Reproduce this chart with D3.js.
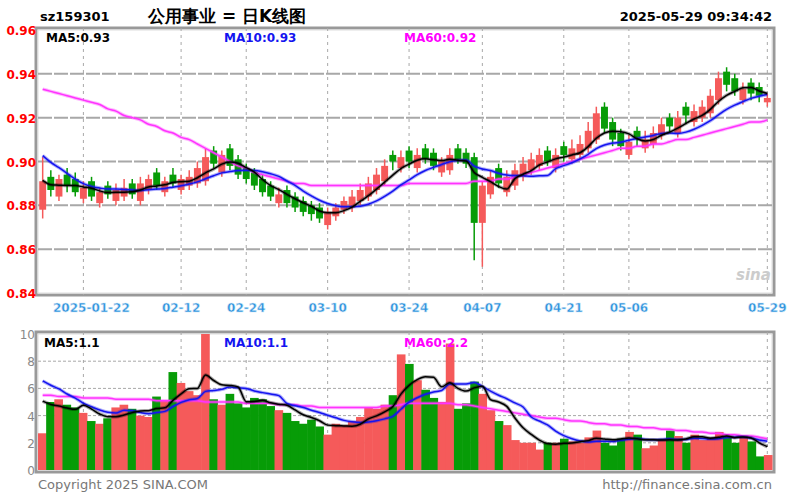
<!DOCTYPE html>
<html>
<head>
<meta charset="utf-8">
<script src="https://cdn.jsdelivr.net/npm/d3@7"></script>
<style>
  body { margin: 0; background: #fff; }
  text { font-family: "DejaVu Sans", sans-serif; }
</style>
</head>
<body>
<svg id="chart" width="800" height="500"></svg>
<script>
// closes of the 9 sessions before the window (only feed the moving averages)
const priorCloses = [0.918, 0.916, 0.915, 0.912, 0.909, 0.897, 0.893, 0.890, 0.886];
const priorVolumes = [8.2, 7.9, 8.5, 7.6, 8.0, 6.2, 5.8, 5.5, 5.1];
// daily closes, 90 trading days ending 2025-05-29
const closes = [
  0.891, 0.887, 0.892, 0.889, 0.886, 0.888, 0.884, 0.886, 0.885, 0.887,
  0.888, 0.885, 0.890, 0.892, 0.889, 0.891, 0.890, 0.892, 0.893, 0.897,
  0.902, 0.899, 0.903, 0.898, 0.894, 0.892, 0.889, 0.886, 0.884, 0.885,
  0.881, 0.879, 0.877, 0.876, 0.874, 0.877, 0.879, 0.882, 0.884, 0.887,
  0.890, 0.894, 0.898, 0.900, 0.902, 0.900, 0.903, 0.901, 0.898, 0.900,
  0.903, 0.901, 0.899, 0.872, 0.889, 0.893, 0.890, 0.893, 0.896, 0.899,
  0.901, 0.903, 0.900, 0.903, 0.903, 0.906, 0.908, 0.914, 0.922, 0.915,
  0.910, 0.907, 0.909, 0.911, 0.910, 0.913, 0.917, 0.916, 0.920, 0.921,
  0.923, 0.925, 0.930, 0.938, 0.935, 0.932, 0.933, 0.931, 0.930, 0.929
];
const opens = [
  0.878, 0.893, 0.884, 0.894, 0.892, 0.883, 0.891, 0.881, 0.889, 0.882,
  0.884, 0.890, 0.882, 0.887, 0.895, 0.886, 0.894, 0.887, 0.889, 0.890,
  0.891, 0.905, 0.895, 0.906, 0.901, 0.897, 0.895, 0.892, 0.889, 0.881,
  0.887, 0.884, 0.882, 0.880, 0.879, 0.871, 0.875, 0.878, 0.879, 0.882,
  0.884, 0.887, 0.891, 0.903, 0.897, 0.905, 0.897, 0.906, 0.904, 0.895,
  0.896, 0.906, 0.904, 0.902, 0.872, 0.885, 0.897, 0.886, 0.889, 0.893,
  0.896, 0.898, 0.905, 0.897, 0.907, 0.901, 0.903, 0.906, 0.910, 0.925,
  0.918, 0.913, 0.903, 0.914, 0.906, 0.908, 0.912, 0.920, 0.913, 0.925,
  0.918, 0.920, 0.922, 0.928, 0.941, 0.938, 0.928, 0.936, 0.934, 0.927
];
const highs = [
  0.902, 0.896, 0.894, 0.897, 0.895, 0.891, 0.893, 0.888, 0.891, 0.890,
  0.892, 0.892, 0.893, 0.894, 0.897, 0.893, 0.897, 0.894, 0.896, 0.900,
  0.906, 0.907, 0.905, 0.908, 0.903, 0.899, 0.897, 0.894, 0.891, 0.888,
  0.889, 0.886, 0.884, 0.882, 0.881, 0.879, 0.881, 0.884, 0.887, 0.890,
  0.893, 0.897, 0.901, 0.905, 0.905, 0.907, 0.906, 0.908, 0.906, 0.902,
  0.906, 0.908, 0.906, 0.904, 0.891, 0.896, 0.899, 0.896, 0.899, 0.902,
  0.904, 0.906, 0.907, 0.906, 0.909, 0.910, 0.912, 0.918, 0.925, 0.927,
  0.920, 0.915, 0.912, 0.916, 0.914, 0.916, 0.920, 0.922, 0.923, 0.927,
  0.926, 0.928, 0.933, 0.941, 0.943, 0.940, 0.936, 0.938, 0.936, 0.931
];
const lows = [
  0.874, 0.884, 0.882, 0.886, 0.884, 0.881, 0.882, 0.879, 0.883, 0.880,
  0.882, 0.883, 0.880, 0.885, 0.887, 0.884, 0.888, 0.885, 0.887, 0.888,
  0.889, 0.897, 0.893, 0.896, 0.892, 0.890, 0.887, 0.884, 0.882, 0.879,
  0.879, 0.877, 0.875, 0.873, 0.872, 0.869, 0.873, 0.876, 0.877, 0.880,
  0.882, 0.885, 0.889, 0.896, 0.895, 0.897, 0.895, 0.899, 0.896, 0.893,
  0.894, 0.899, 0.897, 0.855, 0.852, 0.883, 0.888, 0.884, 0.887, 0.891,
  0.894, 0.896, 0.898, 0.895, 0.900, 0.899, 0.901, 0.904, 0.908, 0.913,
  0.907, 0.905, 0.901, 0.907, 0.904, 0.906, 0.910, 0.913, 0.911, 0.917,
  0.916, 0.918, 0.920, 0.926, 0.932, 0.930, 0.926, 0.928, 0.927, 0.925
];
// MA60 (needs history before the window)
const ma60 = [
  0.933, 0.932, 0.931, 0.930, 0.929, 0.928, 0.927, 0.926, 0.924, 0.923,
  0.921, 0.920, 0.919, 0.917, 0.916, 0.914, 0.913, 0.911, 0.910, 0.908,
  0.906, 0.904, 0.902, 0.900, 0.898, 0.897, 0.895, 0.894, 0.893, 0.892,
  0.891, 0.890, 0.890, 0.889, 0.889, 0.889, 0.889, 0.889, 0.889, 0.889,
  0.889, 0.889, 0.889, 0.889, 0.889, 0.890, 0.890, 0.890, 0.890, 0.890,
  0.890, 0.890, 0.890, 0.891, 0.891, 0.891, 0.892, 0.892, 0.893, 0.894,
  0.895, 0.896, 0.897, 0.898, 0.899, 0.900, 0.901, 0.902, 0.903, 0.904,
  0.905, 0.906, 0.906, 0.907, 0.907, 0.908, 0.908, 0.909, 0.910, 0.910,
  0.911, 0.912, 0.913, 0.914, 0.915, 0.916, 0.917, 0.918, 0.918, 0.919
];
const volumes = [
  2.7, 5.0, 5.2, 4.8, 4.6, 4.2, 3.6, 3.4, 3.8, 4.6,
  4.8, 4.5, 4.0, 3.9, 5.4, 5.1, 7.2, 6.4, 5.8, 5.5,
  10.0, 5.2, 4.8, 5.6, 4.9, 4.6, 5.3, 5.2, 4.7, 4.4,
  4.2, 3.6, 3.4, 3.7, 3.2, 2.6, 3.4, 3.3, 3.6, 3.9,
  4.6, 4.5, 4.8, 5.5, 8.5, 7.8, 6.6, 5.9, 5.3, 5.0,
  9.3, 4.5, 4.9, 6.5, 5.6, 4.4, 3.6, 3.3, 2.2, 2.0,
  2.0, 1.5, 2.0, 2.0, 2.3, 2.1, 2.0, 2.4, 2.9, 2.0,
  1.8, 2.3, 2.8, 2.6, 1.6, 1.8, 2.2, 2.9, 2.5, 2.0,
  2.6, 2.2, 2.4, 2.8, 2.5, 2.0, 2.4, 2.1, 1.0, 1.1
];
const volMa60 = [
  5.5, 5.5, 5.4, 5.4, 5.4, 5.3, 5.3, 5.3, 5.3, 5.2,
  5.2, 5.2, 5.2, 5.2, 5.1, 5.1, 5.1, 5.1, 5.1, 5.1,
  5.0, 5.0, 5.0, 5.0, 5.0, 4.9, 4.9, 4.9, 4.9, 4.8,
  4.8, 4.8, 4.7, 4.7, 4.6, 4.6, 4.6, 4.6, 4.6, 4.6,
  4.6, 4.6, 4.7, 4.7, 4.8, 4.9, 4.9, 4.9, 4.9, 4.9,
  4.9, 4.8, 4.8, 4.7, 4.6, 4.5, 4.4, 4.3, 4.2, 4.1,
  4.0, 3.9, 3.8, 3.8, 3.7, 3.6, 3.6, 3.5, 3.4, 3.4,
  3.3, 3.3, 3.2, 3.2, 3.1, 3.1, 3.0, 3.0, 2.9, 2.9,
  2.8, 2.8, 2.7, 2.7, 2.6, 2.6, 2.5, 2.5, 2.4, 2.3
];
const tickIdx = [5, 17, 25, 35, 45, 54, 64, 72, 89];
const tickLabels = ["2025-01-22", "02-12", "02-24", "03-10", "03-24", "04-07", "04-21", "05-06", "05-29"];
const priceTicks = [0.84, 0.86, 0.88, 0.90, 0.92, 0.94, 0.96];
const volTicks = [0, 2, 4, 6, 8, 10];

const RED = "#f55a5a", GREEN = "#079c07", GRID = "#a8a8a8";
const svg = d3.select("#chart");
const left = 38, right = 772;
const idx = d3.range(closes.length);

const x = d3.scaleBand().domain(idx).range([left, right]).padding(0.15);
const xv = d3.scaleBand().domain(idx).range([left, right]).padding(0);
const y = d3.scaleLinear().domain([0.84, 0.96]).range([293, 30]);
const yv = d3.scaleLinear().domain([0, 10]).range([470, 334]);

// moving average over prior + window values, returned for the window only
function ma(prior, arr, n) {
  const all = prior.concat(arr);
  return arr.map((d, i) => {
    const j = i + prior.length;
    return d3.mean(all.slice(Math.max(0, j - n + 1), j + 1));
  });
}

// panel frames and grids
function frame(top, bottom) {
  svg.append("rect").attr("x", left - 2).attr("y", top).attr("width", right - left + 4)
    .attr("height", bottom - top).attr("fill", "none").attr("stroke", "#999").attr("stroke-width", 3);
  svg.append("rect").attr("x", left).attr("y", top + 2).attr("width", right - left)
    .attr("height", bottom - top - 4).attr("fill", "none").attr("stroke", "#ddd").attr("stroke-width", 1);
  tickIdx.forEach(i => {
    svg.append("line").attr("x1", x(i) + x.bandwidth() / 2).attr("x2", x(i) + x.bandwidth() / 2)
      .attr("y1", top).attr("y2", bottom).attr("stroke", GRID).attr("stroke-dasharray", "3,4");
  });
}
frame(28, 295);
frame(332, 472);
priceTicks.slice(1, -1).forEach(t => {
  svg.append("line").attr("x1", left).attr("x2", right).attr("y1", y(t)).attr("y2", y(t))
    .attr("stroke", GRID).attr("stroke-width", 2).attr("stroke-dasharray", "14,2");
});
volTicks.slice(1, -1).forEach(t => {
  svg.append("line").attr("x1", left).attr("x2", right).attr("y1", yv(t)).attr("y2", yv(t))
    .attr("stroke", GRID).attr("stroke-dasharray", "3,2");
});

// candles
const up = i => closes[i] >= opens[i];
svg.append("g").selectAll("line").data(idx).join("line")
  .attr("x1", i => x(i) + x.bandwidth() / 2).attr("x2", i => x(i) + x.bandwidth() / 2)
  .attr("y1", i => y(highs[i])).attr("y2", i => y(lows[i]))
  .attr("stroke", i => up(i) ? RED : GREEN).attr("stroke-width", 1.5);
svg.append("g").selectAll("rect").data(idx).join("rect")
  .attr("x", i => x(i)).attr("width", x.bandwidth())
  .attr("y", i => y(Math.max(opens[i], closes[i])))
  .attr("height", i => Math.max(1.5, Math.abs(y(opens[i]) - y(closes[i]))))
  .attr("fill", i => up(i) ? RED : GREEN);

// volume bars
svg.append("g").selectAll("rect").data(idx).join("rect")
  .attr("x", i => xv(i)).attr("width", xv.bandwidth() + 0.5)
  .attr("y", i => yv(volumes[i])).attr("height", i => yv(0) - yv(volumes[i]))
  .attr("fill", i => up(i) ? RED : GREEN);

// moving averages
function maLine(vals, ys, color) {
  const line = d3.line().x((d, i) => x(i) + x.bandwidth() / 2).y(d => ys(d)).curve(d3.curveMonotoneX);
  svg.append("path").datum(vals).attr("d", line).attr("fill", "none")
    .attr("stroke", color).attr("stroke-width", 3.5).attr("opacity", 0.35);
  svg.append("path").datum(vals).attr("d", line).attr("fill", "none")
    .attr("stroke", color).attr("stroke-width", 1.5);
}
maLine(ma60, y, "#ff33ff");
maLine(ma(priorCloses, closes, 10), y, "#1414f0");
maLine(ma(priorCloses, closes, 5), y, "#000");
maLine(volMa60, yv, "#ff33ff");
maLine(ma(priorVolumes, volumes, 10), yv, "#1414f0");
maLine(ma(priorVolumes, volumes, 5), yv, "#000");

// axis labels
priceTicks.forEach(t => {
  svg.append("text").attr("x", 36).attr("y", y(t) + 5).attr("text-anchor", "end")
    .attr("font-size", 12).attr("font-weight", "bold").attr("fill", "#f00")
    .text(t.toFixed(2));
});
volTicks.forEach(t => {
  svg.append("text").attr("x", 35).attr("y", yv(t) + 5).attr("text-anchor", "end")
    .attr("font-size", 12).attr("fill", "#888").text(t);
});
tickIdx.forEach((i, k) => {
  svg.append("text").attr("x", x(i) + x.bandwidth() / 2 - (k === 0 ? -8 : 0)).attr("y", 312)
    .attr("text-anchor", "middle").attr("font-size", 12).attr("font-weight", "bold")
    .attr("fill", "#2b8fdc").attr("stroke", "#cfe6f7").attr("stroke-width", 0.5)
    .text(tickLabels[k]);
});

// titles and legends
const txt = (xx, yy, s, size, color, anchor, weight) => svg.append("text")
  .attr("x", xx).attr("y", yy).attr("font-size", size).attr("fill", color)
  .attr("text-anchor", anchor || "start").attr("font-weight", weight || "bold").text(s);
txt(40, 21, "sz159301", 13, "#000");
txt(148, 22, "公用事业 = 日K线图", 17, "#000");
txt(772, 21, "2025-05-29 09:34:42", 13, "#000", "end");
txt(46, 42, "MA5:0.93", 12, "#000");
txt(224, 42, "MA10:0.93", 12, "#1414f0");
txt(404, 42, "MA60:0.92", 12, "#ff00ff");
txt(44, 347, "MA5:1.1", 12, "#000");
txt(224, 347, "MA10:1.1", 12, "#1414f0");
txt(404, 347, "MA60:2.2", 12, "#ff00ff");
txt(736, 280, "sina", 15, "#ccc", "start", "bold").attr("font-style", "italic");
txt(38, 489, "Copyright 2025 SINA.COM", 13, "#777", "start", "normal");
txt(772, 489, "http://finance.sina.com.cn", 13, "#777", "end", "normal");
</script>
</body>
</html>
